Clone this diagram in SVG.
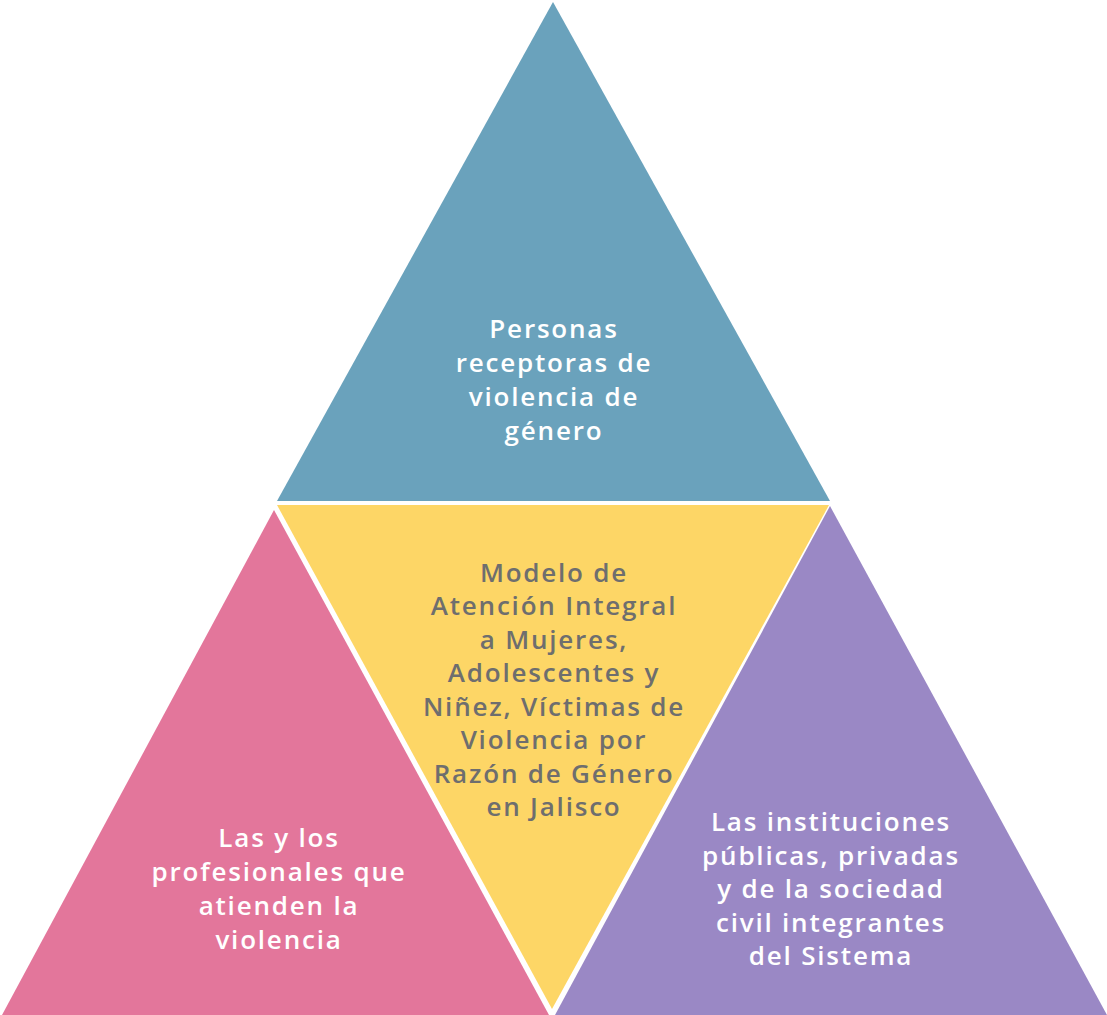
<svg xmlns="http://www.w3.org/2000/svg" width="1107" height="1015" viewBox="0 0 1107 1015">
<style>
.t{font-family:"Open Sans","Lato",sans-serif;font-size:26px;font-weight:600;text-anchor:middle;letter-spacing:1.8px}
.w{fill:#ffffff}
.g{fill:#6e6e6e}
</style>
<rect width="1107" height="1015" fill="#ffffff"/>
<g id="top">
<polygon points="553,2 277,501 830,501" fill="#6AA2BC"/>
<text class="t w"><tspan x="554" y="338">Personas</tspan><tspan x="554" y="372">receptoras de</tspan><tspan x="554" y="406">violencia de</tspan><tspan x="554" y="440">género</tspan></text>
</g>
<g id="center">
<polygon points="277,505 829,505 552,1009" fill="#FDD666"/>
<text class="t g"><tspan x="554" y="582">Modelo de</tspan><tspan x="554" y="615">Atención Integral</tspan><tspan x="554" y="649">a Mujeres,</tspan><tspan x="554" y="682">Adolescentes y</tspan><tspan x="554" y="716">Niñez, Víctimas de</tspan><tspan x="554" y="749">Violencia por</tspan><tspan x="554" y="783">Razón de Género</tspan><tspan x="554" y="816">en Jalisco</tspan></text>
</g>
<g id="left">
<polygon points="274,510 2,1015 549,1015" fill="#E3769B"/>
<text class="t w"><tspan x="279" y="847">Las y los</tspan><tspan x="279" y="881">profesionales que</tspan><tspan x="279" y="915">atienden la</tspan><tspan x="279" y="949">violencia</tspan></text>
</g>
<g id="right">
<polygon points="830,506 555,1015 1107,1015" fill="#9A88C5"/>
<text class="t w"><tspan x="831" y="831">Las instituciones</tspan><tspan x="831" y="865">públicas, privadas</tspan><tspan x="831" y="898">y de la sociedad</tspan><tspan x="831" y="932">civil integrantes</tspan><tspan x="831" y="965">del Sistema</tspan></text>
</g>
<g id="connectors"></g>
</svg>
